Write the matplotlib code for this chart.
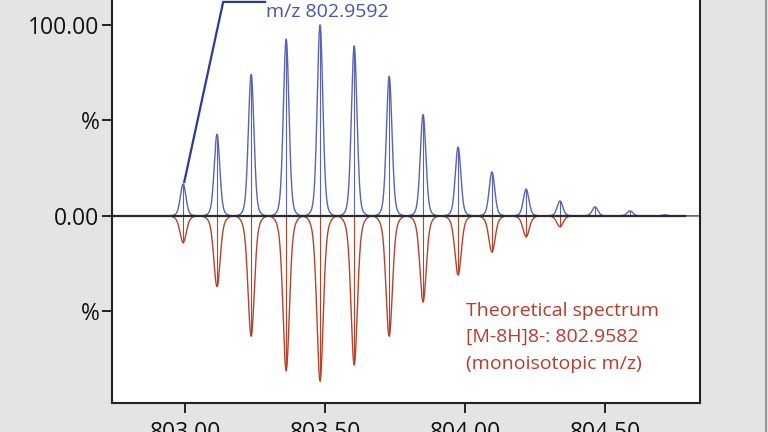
import numpy as np
import matplotlib.pyplot as plt
from matplotlib.lines import Line2D

plt.rcParams['font.family'] = ['Open Sans', 'DejaVu Sans']

# peak centres (m/z), isotope spacing ~1/8
peak_mz = [802.993, 803.114, 803.236, 803.361, 803.482, 803.604, 803.729, 803.850,
           803.975, 804.096, 804.218, 804.339, 804.464, 804.589, 804.714]
# measured spectrum (blue, %)
measured = [16.7, 42.7, 74.0, 92.5, 100.0, 89.0, 73.0, 53.0,
            36.0, 23.0, 14.0, 7.8, 4.7, 2.6, 0.5]
# theoretical spectrum (red, %, drawn downwards)
theoretical = [14.0, 37.0, 63.0, 81.0, 86.5, 78.0, 63.0, 45.0,
               31.0, 19.0, 11.0, 5.7, 0.0, 0.0, 0.0]

xticks = [803.00, 803.50, 804.00, 804.50]
yticks = [100, 50, 0, -50]
yticklabels = ['100.00', '%', '0.00', '%']

blue = '#5a63b3'
red = '#b5432c'

def profile(x, centres, heights, sigma, broad, frac):
    # narrow gaussian core plus a small broad foot
    y = np.zeros_like(x)
    for c, h in zip(centres, heights):
        y += h * (1 - frac) * np.exp(-0.5 * ((x - c) / sigma) ** 2)
        y += h * frac * np.exp(-0.5 * ((x - c) / broad) ** 2)
    return y

fig = plt.figure(figsize=(7.68, 4.32), dpi=100, facecolor='#e4e4e4')
ax = fig.add_axes([112/768, 29/432, 588/768, 0.9417])
ax.set_facecolor('white')

x = np.linspace(802.739, 804.839, 4000)
ax.plot(x, -profile(x, peak_mz, theoretical, 0.0105, 0.02, 0.2), color=red, lw=1.0)
ax.plot(x, profile(x, peak_mz, measured, 0.0095, 0.018, 0.12), color=blue, lw=1.0)
ax.vlines([m for m, t in zip(peak_mz, theoretical) if t > 0], 0,
          [-t for t in theoretical if t > 0], color=red, lw=0.8)
ax.vlines(peak_mz, 0, measured, color=blue, lw=0.8)
ax.plot([802.739, 804.786], [0, 0], color='#2b2b2b', lw=1.6)

# annotation leader for the monoisotopic peak
ax.plot([peak_mz[0] + 0.004, 803.136, 803.286], [measured[0] + 1, 112, 112],
        color='#2c3a96', lw=1.6, clip_on=False)
ax.text(803.29, 106.5, 'm/z 802.9592', color='#4a55a3', fontsize=14,
        va='center', ha='left')

ax.text(804.004, -45, 'Theoretical spectrum\n[M-8H]8-: 802.9582\n(monoisotopic m/z)',
        color='#b83b2b', fontsize=14, va='top', ha='left', linespacing=1.6)

ax.set_xlim(802.739, 804.839)
ax.set_ylim(-98, 115)
ax.set_xticks(xticks)
ax.set_xticklabels([f'{t:.2f}' for t in xticks])
ax.set_yticks(yticks)
ax.set_yticklabels(yticklabels)
ax.tick_params(axis='both', direction='out', length=7, width=1.4, color='#222222',
               labelsize=16.5, labelcolor='#111111')
ax.tick_params(axis='x', pad=6)
ax.tick_params(axis='y', pad=2)
for s in ax.spines.values():
    s.set_color('#222222')
    s.set_linewidth(1.5)

fig.add_artist(Line2D([766/768, 766/768], [0, 1], color='#8a8a8a', lw=1.2))

fig.savefig('out.png', dpi=100, facecolor=fig.get_facecolor())
